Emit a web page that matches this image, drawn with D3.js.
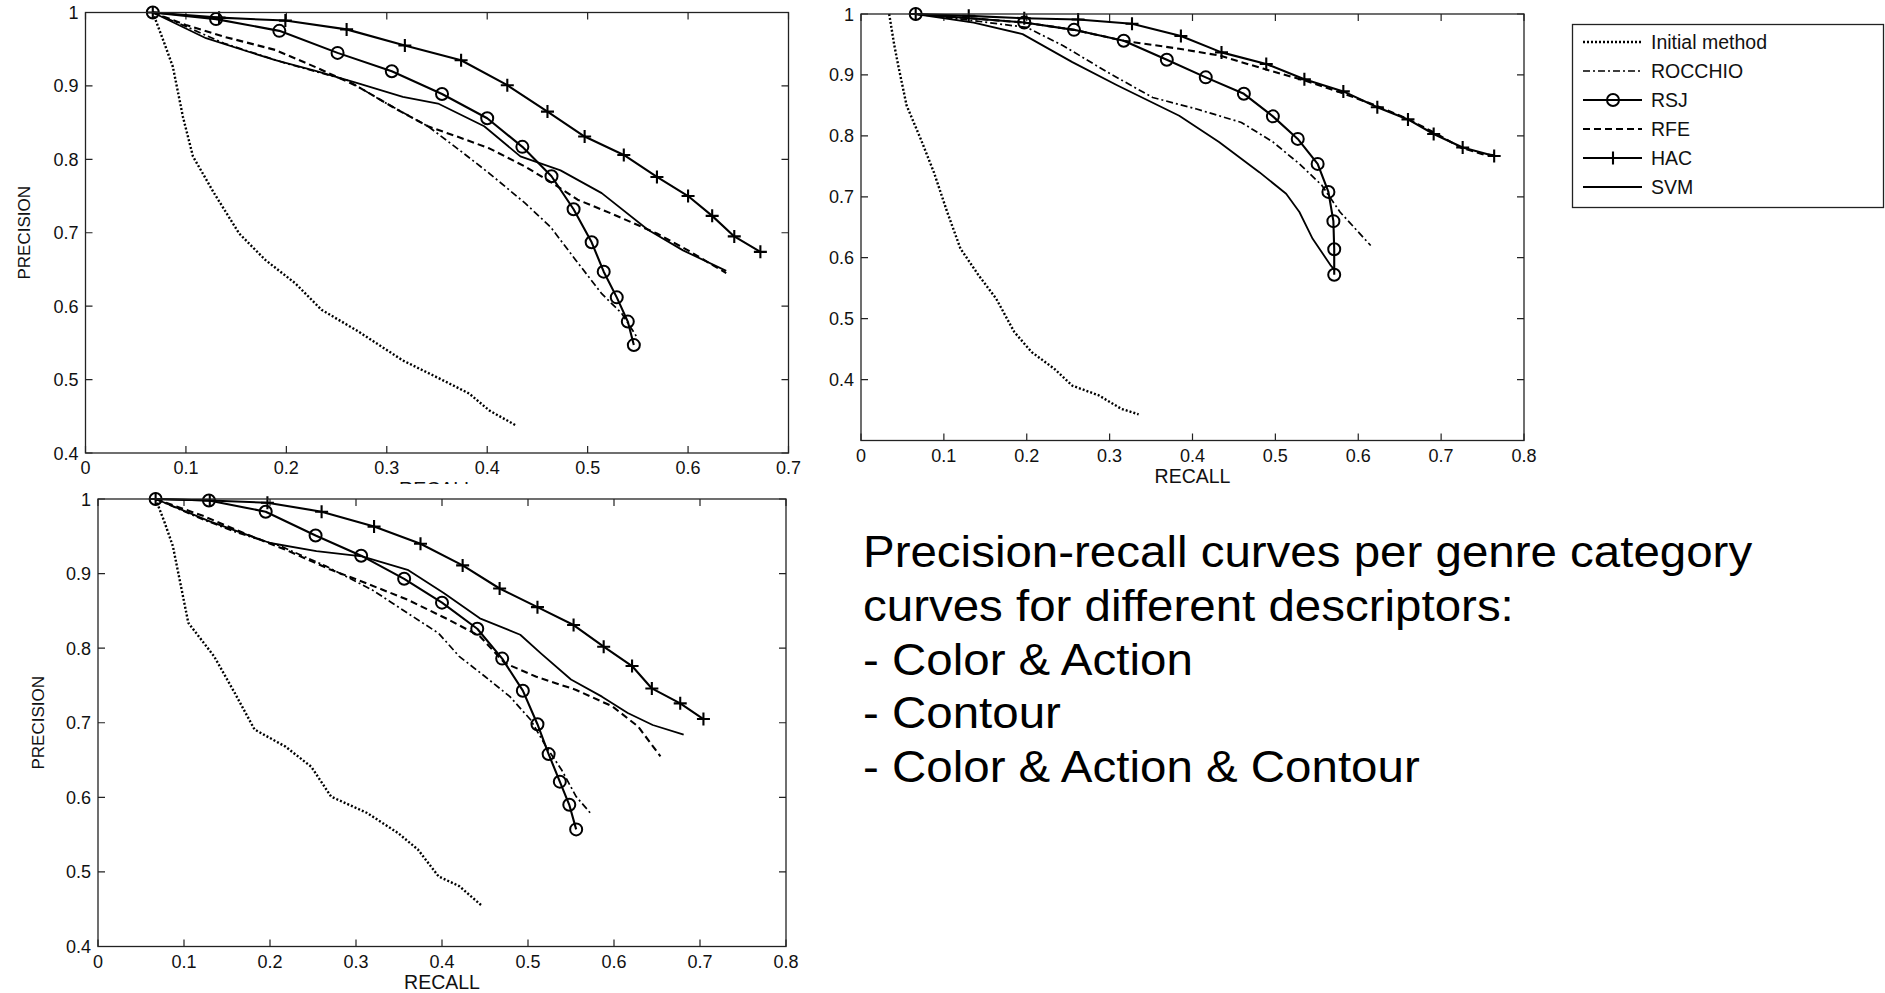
<!DOCTYPE html>
<html lang="en">
<head>
<meta charset="utf-8">
<title>precision-recall curves</title>
<script src="https://cdnjs.cloudflare.com/ajax/libs/d3/7.8.5/d3.min.js"></script>
<style type="text/css">
body { margin: 0; background: #fff; }
svg { display: block; }
text { font-family: "Liberation Sans", Arial, sans-serif; fill: #111; }
</style>
</head>
<body>
<script type="text/javascript">

// series names (legend order)
var methods = ["Initial method", "ROCCHIO", "RSJ", "RFE", "HAC", "SVM"];

// tick values
var recallTicksA = [0, 0.1, 0.2, 0.3, 0.4, 0.5, 0.6, 0.7];
var recallTicksB = [0, 0.1, 0.2, 0.3, 0.4, 0.5, 0.6, 0.7, 0.8];
var precisionTicks = [0.4, 0.5, 0.6, 0.7, 0.8, 0.9, 1];

// panel A (top left) [recall, precision]
var aInitial = [[0.067,1.0],[0.078,0.96],[0.087,0.926],[0.097,0.858],[0.107,0.804],[0.128,0.754],[0.153,0.699],[0.179,0.663],[0.209,0.631],[0.235,0.595],[0.27,0.567],[0.316,0.526],[0.356,0.499],[0.382,0.481],[0.402,0.458],[0.428,0.438]];
var aRocchio = [[0.067,1.0],[0.1,0.981],[0.138,0.958],[0.199,0.931],[0.26,0.908],[0.3,0.876],[0.341,0.845],[0.372,0.813],[0.402,0.781],[0.438,0.74],[0.463,0.708],[0.488,0.663],[0.514,0.617],[0.534,0.59],[0.549,0.558]];
var aRsj = [[0.067,1.0],[0.13,0.991],[0.193,0.975],[0.251,0.945],[0.305,0.92],[0.355,0.889],[0.4,0.856],[0.435,0.817],[0.464,0.777],[0.486,0.732],[0.504,0.687],[0.516,0.647],[0.529,0.612],[0.54,0.579],[0.546,0.547]];
var aRfe = [[0.067,1.0],[0.1,0.983],[0.138,0.967],[0.189,0.949],[0.23,0.925],[0.27,0.9],[0.31,0.868],[0.341,0.845],[0.372,0.83],[0.402,0.815],[0.438,0.79],[0.468,0.765],[0.49,0.745],[0.524,0.726],[0.569,0.699],[0.6,0.676],[0.638,0.645]];
var aHac = [[0.067,1.0],[0.133,0.993],[0.199,0.989],[0.26,0.977],[0.318,0.955],[0.374,0.935],[0.42,0.901],[0.46,0.865],[0.497,0.831],[0.536,0.806],[0.569,0.776],[0.6,0.75],[0.624,0.723],[0.646,0.695],[0.672,0.674]];
var aSvm = [[0.067,1.0],[0.12,0.965],[0.189,0.935],[0.23,0.92],[0.27,0.904],[0.316,0.885],[0.351,0.876],[0.397,0.845],[0.433,0.804],[0.473,0.785],[0.514,0.754],[0.56,0.704],[0.595,0.676],[0.638,0.648]];

// panel B (top right)
var bInitial = [[0.034,1.0],[0.04,0.95],[0.045,0.915],[0.055,0.85],[0.072,0.795],[0.088,0.74],[0.104,0.675],[0.12,0.615],[0.142,0.571],[0.163,0.533],[0.185,0.478],[0.206,0.445],[0.233,0.418],[0.255,0.39],[0.287,0.374],[0.314,0.352],[0.335,0.343]];
var bRocchio = [[0.066,1.0],[0.136,0.989],[0.2,0.978],[0.244,0.948],[0.298,0.904],[0.352,0.863],[0.405,0.844],[0.459,0.822],[0.497,0.79],[0.529,0.754],[0.556,0.719],[0.578,0.675],[0.615,0.62]];
var bRsj = [[0.066,1.0],[0.197,0.986],[0.257,0.974],[0.317,0.956],[0.369,0.925],[0.416,0.896],[0.462,0.869],[0.497,0.832],[0.527,0.795],[0.551,0.754],[0.564,0.708],[0.57,0.66],[0.571,0.614],[0.571,0.572]];
var bRfe = [[0.066,1.0],[0.197,0.986],[0.257,0.974],[0.317,0.956],[0.384,0.943],[0.432,0.932],[0.486,0.91],[0.535,0.891],[0.583,0.869],[0.621,0.85],[0.659,0.828],[0.691,0.806],[0.723,0.781],[0.75,0.77],[0.766,0.768]];
var bHac = [[0.066,1.0],[0.13,0.997],[0.197,0.993],[0.262,0.991],[0.327,0.984],[0.386,0.964],[0.435,0.937],[0.489,0.918],[0.535,0.893],[0.582,0.873],[0.623,0.847],[0.66,0.827],[0.691,0.803],[0.726,0.781],[0.764,0.767]];
var bSvm = [[0.066,1.0],[0.136,0.986],[0.195,0.967],[0.255,0.921],[0.309,0.883],[0.384,0.833],[0.432,0.79],[0.481,0.74],[0.513,0.705],[0.529,0.675],[0.545,0.631],[0.567,0.587],[0.572,0.579]];

// panel C (bottom left)
var cInitial = [[0.067,1.0],[0.077,0.97],[0.087,0.937],[0.097,0.88],[0.105,0.834],[0.135,0.789],[0.159,0.74],[0.182,0.691],[0.218,0.668],[0.248,0.641],[0.271,0.601],[0.313,0.579],[0.349,0.552],[0.372,0.53],[0.396,0.494],[0.42,0.481],[0.447,0.454]];
var cRocchio = [[0.067,1.0],[0.105,0.981],[0.123,0.972],[0.164,0.954],[0.212,0.937],[0.265,0.91],[0.319,0.878],[0.36,0.847],[0.396,0.82],[0.42,0.789],[0.45,0.762],[0.479,0.735],[0.503,0.704],[0.521,0.668],[0.539,0.637],[0.556,0.601],[0.574,0.577]];
var cRsj = [[0.067,1.0],[0.129,0.998],[0.195,0.983],[0.253,0.951],[0.306,0.924],[0.356,0.893],[0.4,0.861],[0.441,0.826],[0.47,0.786],[0.494,0.743],[0.511,0.698],[0.524,0.658],[0.537,0.621],[0.548,0.59],[0.556,0.557]];
var cRfe = [[0.067,1.0],[0.123,0.977],[0.17,0.954],[0.218,0.932],[0.271,0.905],[0.301,0.892],[0.36,0.865],[0.408,0.838],[0.444,0.816],[0.473,0.78],[0.509,0.762],[0.556,0.744],[0.598,0.722],[0.628,0.695],[0.654,0.655]];
var cHac = [[0.067,1.0],[0.13,0.998],[0.197,0.995],[0.26,0.983],[0.321,0.963],[0.375,0.94],[0.424,0.911],[0.467,0.88],[0.511,0.855],[0.553,0.831],[0.588,0.802],[0.621,0.776],[0.644,0.746],[0.677,0.726],[0.704,0.705]];
var cSvm = [[0.067,1.0],[0.13,0.97],[0.2,0.941],[0.254,0.93],[0.307,0.923],[0.36,0.905],[0.402,0.874],[0.444,0.84],[0.491,0.818],[0.515,0.793],[0.55,0.758],[0.586,0.735],[0.616,0.713],[0.645,0.697],[0.681,0.684]];

// caption lines
var caption = [
	"Precision-recall curves per genre category",
	"curves for different descriptors:",
	"- Color & Action",
	"- Contour",
	"- Color & Action & Contour"
];

// line styles, same order as methods
var styles = [
	{dash: "2,2", width: 2.4, marker: null},
	{dash: "7,3,2,3", width: 1.7, marker: null},
	{dash: null, width: 2.1, marker: "circle"},
	{dash: "7,4", width: 2.1, marker: null},
	{dash: null, width: 2.1, marker: "plus"},
	{dash: null, width: 1.8, marker: null}
];

var w = 1885, h = 993;

var svg = d3.select("body").append("svg")
	.attr("width", w)
	.attr("height", h);

svg.append("rect").attr("width", w).attr("height", h).attr("fill", "#fff");

function fmt(d) {
	if (d === 0) return "0";
	if (d === 1) return "1";
	return d.toFixed(1);
}

function drawMarkers(g, pts, kind) {
	if (kind === "circle") {
		g.selectAll("circle.m").data(pts).enter().append("circle")
			.attr("class", "m")
			.attr("cx", function(d) { return d[0]; })
			.attr("cy", function(d) { return d[1]; })
			.attr("r", 6)
			.attr("fill", "none")
			.attr("stroke", "#000")
			.attr("stroke-width", 2);
	} else if (kind === "plus") {
		g.selectAll("path.m").data(pts).enter().append("path")
			.attr("class", "m")
			.attr("d", function(d) {
				return "M" + (d[0] - 6.5) + "," + d[1] + "H" + (d[0] + 6.5) +
					"M" + d[0] + "," + (d[1] - 6.5) + "V" + (d[1] + 6.5);
			})
			.attr("stroke", "#000")
			.attr("stroke-width", 2.1);
	}
}

function drawPanel(p) {
	var x = d3.scaleLinear().domain([0, p.xMax]).range([p.left, p.right]);
	var y = d3.scaleLinear().domain([p.yMin, 1]).range([p.bottom, p.top]);
	var g = svg.append("g");
	var tl = 7;

	// ticks, inward on all four sides
	g.selectAll("path.xt").data(p.xTicks).enter().append("path")
		.attr("class", "xt")
		.attr("d", function(d) {
			var px = x(d);
			return "M" + px + "," + p.bottom + "v" + (-tl) + "M" + px + "," + p.top + "v" + tl;
		})
		.attr("stroke", "#222").attr("stroke-width", 1.2);
	g.selectAll("path.yt").data(p.yTicks).enter().append("path")
		.attr("class", "yt")
		.attr("d", function(d) {
			var py = y(d);
			return "M" + p.left + "," + py + "h" + tl + "M" + p.right + "," + py + "h" + (-tl);
		})
		.attr("stroke", "#222").attr("stroke-width", 1.2);

	g.selectAll("text.xl").data(p.xTicks).enter().append("text")
		.attr("class", "xl")
		.attr("x", function(d) { return x(d); })
		.attr("y", p.bottom + 21)
		.attr("text-anchor", "middle")
		.style("font-size", "18px")
		.text(fmt);
	g.selectAll("text.yl").data(p.yTicks).enter().append("text")
		.attr("class", "yl")
		.attr("x", p.left - 7)
		.attr("y", function(d) { return y(d) + 6.5; })
		.attr("text-anchor", "end")
		.style("font-size", "18px")
		.text(fmt);

	// curves
	var line = d3.line()
		.x(function(d) { return x(d[0]); })
		.y(function(d) { return y(d[1]); });

	p.series.forEach(function(s, i) {
		var st = styles[i];
		g.append("path")
			.datum(s)
			.attr("d", line)
			.attr("fill", "none")
			.attr("stroke", "#000")
			.attr("stroke-width", st.width)
			.attr("stroke-dasharray", st.dash)
			.attr("stroke-linejoin", "round");
		if (st.marker) {
			var mg = g.append("g");
			drawMarkers(mg, s.map(function(d) { return [x(d[0]), y(d[1])]; }), st.marker);
		}
	});

	// frame
	g.append("rect")
		.attr("x", p.left).attr("y", p.top)
		.attr("width", p.right - p.left).attr("height", p.bottom - p.top)
		.attr("fill", "none").attr("stroke", "#222").attr("stroke-width", 1.3);

	if (p.xLabel) {
		g.append("text")
			.attr("x", (p.left + p.right) / 2)
			.attr("y", p.xLabelY)
			.attr("text-anchor", "middle")
			.style("font-size", "19.5px")
			.text("RECALL");
	}
	if (p.yLabel) {
		g.append("text")
			.attr("transform", "translate(" + p.yLabelX + "," + ((p.top + p.bottom) / 2) + ") rotate(-90)")
			.attr("text-anchor", "middle")
			.style("font-size", "17px")
			.text("PRECISION");
	}
}

// top left
drawPanel({
	left: 85.5, right: 788.5, top: 12.5, bottom: 453,
	xMax: 0.7, yMin: 0.4, xTicks: recallTicksA, yTicks: precisionTicks,
	series: [aInitial, aRocchio, aRsj, aRfe, aHac, aSvm],
	xLabel: true, xLabelY: 496, yLabel: true, yLabelX: 30
});

// top right
drawPanel({
	left: 861, right: 1524, top: 14, bottom: 440.5,
	xMax: 0.8, yMin: 0.3, xTicks: recallTicksB, yTicks: precisionTicks,
	series: [bInitial, bRocchio, bRsj, bRfe, bHac, bSvm],
	xLabel: true, xLabelY: 483, yLabel: false
});

// bottom panel sits over the label of the top one
svg.append("rect")
	.attr("x", 0).attr("y", 484).attr("width", 840).attr("height", h - 484)
	.attr("fill", "#fff");

drawPanel({
	left: 98, right: 786, top: 499, bottom: 946.5,
	xMax: 0.8, yMin: 0.4, xTicks: recallTicksB, yTicks: precisionTicks,
	series: [cInitial, cRocchio, cRsj, cRfe, cHac, cSvm],
	xLabel: true, xLabelY: 989, yLabel: true, yLabelX: 44
});

// legend
var lg = svg.append("g");
lg.append("rect")
	.attr("x", 1572.5).attr("y", 24.5).attr("width", 311).attr("height", 183)
	.attr("fill", "#fff").attr("stroke", "#222").attr("stroke-width", 1.3);

var rows = lg.selectAll("g.row").data(methods).enter().append("g")
	.attr("class", "row")
	.attr("transform", function(d, i) { return "translate(0," + (42 + i * 29) + ")"; });

rows.append("path")
	.attr("d", "M1583,0H1642")
	.attr("fill", "none")
	.attr("stroke", "#000")
	.attr("stroke-width", function(d, i) { return styles[i].width; })
	.attr("stroke-dasharray", function(d, i) { return styles[i].dash; });

rows.each(function(d, i) {
	if (styles[i].marker) drawMarkers(d3.select(this), [[1613, 0]], styles[i].marker);
});

rows.append("text")
	.attr("x", 1651)
	.attr("y", 7)
	.style("font-size", "19.5px")
	.text(function(d) { return d; });

// caption, slightly wide like the source slide
svg.append("g").selectAll("text").data(caption).enter().append("text")
	.attr("transform", function(d, i) { return "translate(863," + (567 + i * 53.8) + ") scale(1.055,1)"; })
	.style("font-size", "45px")
	.style("fill", "#000")
	.text(function(d) { return d; });

</script>
</body>
</html>
